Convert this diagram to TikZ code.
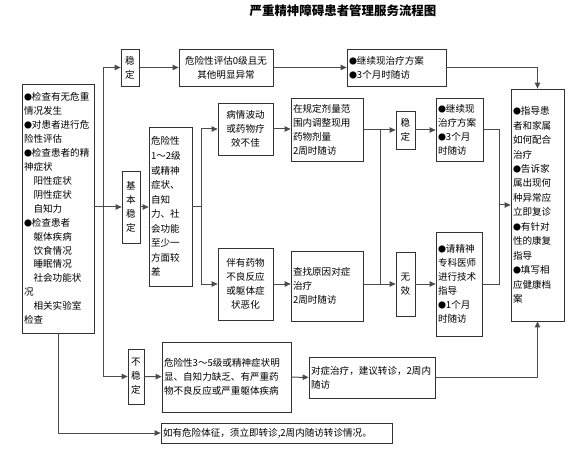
\documentclass[tikz,border=0pt]{standalone}
\usepackage{fontspec}
\newfontfamily\cjk{Noto Sans CJK SC}
\usepackage{tikz}
\usetikzlibrary{arrows.meta}
\newcommand{\bul}{{\fontsize{8}{8}\selectfont ●}}

\begin{document}
\begin{tikzpicture}[x=1bp,y=-1bp,
  box/.style={draw=black!80,line width=0.8bp,inner sep=2bp,
    font=\cjk\fontsize{9.6}{14}\selectfont},
  lbox/.style={box,align=left},
  cbox/.style={box,align=center},
  link/.style={draw=black!70,line width=1bp,-{Triangle[length=6bp,width=5.5bp]}},
  wire/.style={draw=black!70,line width=1bp}]
  \useasboundingbox (0,0) rectangle (584,452);
  \node[font=\cjk\bfseries\fontsize{12.5}{14}\selectfont] (title) at (343,11)
    {严重精神障碍患者管理服务流程图};

  % left column
  \node[lbox,text width=68bp,minimum height=249bp] (check) at (58,208.5)
    {\bul 检查有无危重\\情况发生\\\bul 对患者进行危\\险性评估\\\bul 检查患者的精\\神症状\\
     \hspace*{1em}阳性症状\\\hspace*{1em}阴性症状\\\hspace*{1em}自知力\\\bul 检查患者\\
     \hspace*{1em}躯体疾病\\\hspace*{1em}饮食情况\\\hspace*{1em}睡眠情况\\
     \hspace*{1em}社会功能状\\况\\\hspace*{1em}相关实验室\\检查};

  % stable branch
  \node[cbox,minimum width=18bp,minimum height=37bp] (stab) at (130,67.5) {稳\\定};
  \node[cbox,minimum width=94bp,minimum height=37bp] (risk0) at (226,67.5)
    {危险性评估0级且无\\其他明显异常};
  \node[lbox,text width=95bp,minimum height=37bp] (keep0) at (396.5,67.5)
    {\bul 继续现治疗方案\\\bul 3个月时随访};

  % basically stable branch
  \node[cbox,minimum width=18bp,minimum height=72bp] (basic) at (131,207) {基\\本\\稳\\定};
  \node[lbox,text width=39bp,minimum height=159bp,
    font=\cjk\fontsize{9.6}{14.6}\selectfont] (risk12) at (170.5,206.5)
    {危险性\\1～2级\\或精神\\症状、\\自知\\力、社\\会功能\\至少一\\方面较\\差};
  \node[cbox,minimum width=55bp,minimum height=52bp] (waver) at (245.5,129)
    {病情波动\\或药物疗\\效不佳};
  \node[cbox,minimum width=55bp,minimum height=72bp] (sidefx) at (245.5,284)
    {伴有药物\\不良反应\\或躯体症\\状恶化};
  \node[lbox,text width=68bp,minimum height=63bp] (adjust) at (327,129.5)
    {在规定剂量范\\围内调整现用\\药物剂量\\2周时随访};
  \node[lbox,text width=68bp,minimum height=70bp] (cause) at (327,286)
    {查找原因对症\\治疗\\2周时随访};
  \node[cbox,minimum width=19bp,minimum height=38bp] (stab2) at (405.5,130) {稳\\定};
  \node[cbox,minimum width=19bp,minimum height=64bp] (fail) at (405.5,284) {无\\效};
  \node[lbox,text width=43bp,minimum height=63bp] (keep1) at (459.5,129.5)
    {\bul 继续现\\治疗方案\\\bul 3个月\\时随访};
  \node[lbox,text width=42bp,minimum height=104bp] (expert) at (459,284)
    {\bul 请精神\\专科医师\\进行技术\\指导\\\bul 1个月\\时随访};

  % right column
  \node[lbox,text width=49bp,minimum height=232bp,
    font=\cjk\fontsize{9.6}{14.5}\selectfont] (guide) at (537.5,205)
    {\bul 指导患\\者和家属\\如何配合\\治疗\\\bul 告诉家\\属出现何\\种异常应\\立即复诊\\
     \bul 有针对\\性的康复\\指导\\\bul 填写相\\应健康档\\案};

  % unstable branch
  \node[cbox,minimum width=16bp,minimum height=55bp] (unstab) at (136,376.5) {不\\稳\\定};
  \node[lbox,text width=125bp,minimum height=70bp] (risk35) at (226.5,377)
    {危险性3～5级或精神症状明\\显、自知力缺乏、有严重药\\物不良反应或严重躯体疾病};
  \node[lbox,text width=122bp,minimum height=41bp] (refer) at (372,377.5)
    {对症治疗，建议转诊，2周内\\随访};
  \node[lbox,text width=227bp,minimum height=20bp] (danger) at (276.5,433)
    {如有危险体征，须立即转诊,2周内随访转诊情况。};

  \coordinate (bus) at (103,0);
  \coordinate (fork) at (201,0);
  \coordinate (join) at (380,0);
  \coordinate (merge) at (499,0);

  % connectors
  \draw[wire] (bus |- stab.west) -- (bus |- unstab.west);
  \draw[link] (bus |- stab.west) -- (stab.west);
  \draw[link] (bus |- unstab.west) -- (unstab.west);
  \draw[link] (check.east |- basic.west) -- (basic.west);
  \draw[link] (check.south) -- (check.south |- danger.west) -- (danger.west);

  \draw[link] (stab) -- (risk0);
  \draw[link] (risk0) -- (keep0);
  \draw[link] (keep0.east) -- (guide.north |- keep0.east) -- (guide.north);

  \draw[link] (basic.east) -- (risk12.west |- basic.east);
  \draw[wire] (risk12.east |- basic.east) -- (fork |- basic.east);
  \draw[wire] (fork |- waver.west) -- (fork |- sidefx.west);
  \draw[link] (fork |- waver.west) -- (waver.west);
  \draw[link] (fork |- sidefx.west) -- (sidefx.west);
  \draw[link] (waver.east) -- (adjust.west |- waver.east);
  \draw[link] (sidefx.east) -- (cause.west |- sidefx.east);
  \draw[link] (adjust.east |- stab2.west) -- (stab2.west);
  \draw[link] (cause.east |- fail.west) -- (fail.west);
  \draw[wire] (join |- stab2.west) -- (join |- fail.west);
  \draw[link] (stab2) -- (keep1.west |- stab2.east);
  \draw[link] (fail) -- (expert.west |- fail.east);
  \draw[wire] (keep1.east) -- (merge |- keep1.east) -- (merge |- expert.east) -- (expert.east);
  \draw[link] (merge |- guide.west) -- (guide.west);

  \draw[link] (unstab) -- (risk35);
  \draw[link] (risk35) -- (refer);
  \draw[link] (refer.east) -- (guide.south |- refer.east) -- (guide.south);
\end{tikzpicture}
\end{document}
